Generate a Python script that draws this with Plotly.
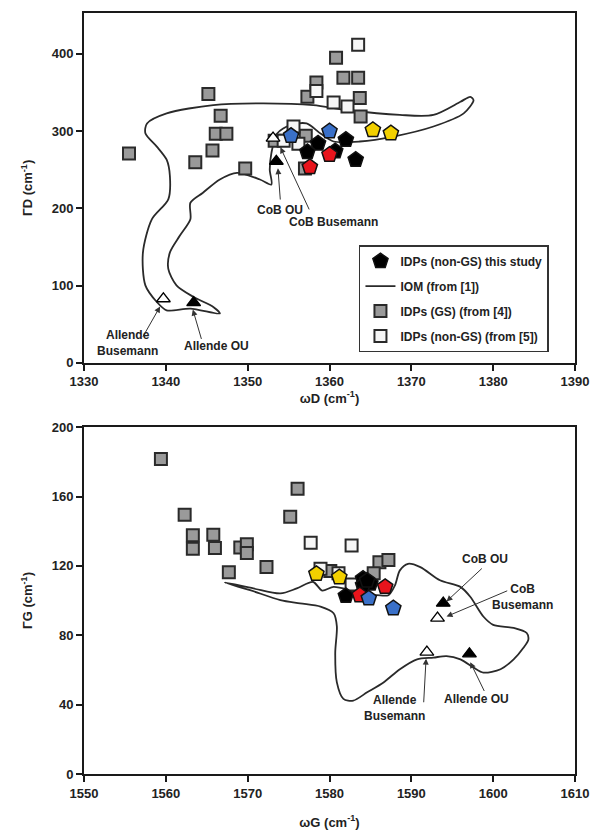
import plotly.graph_objects as go

# ---------------- Top panel (D band) ----------------
d_gs_x = [1335.5, 1345.2, 1346.7, 1346.1, 1347.4, 1345.7, 1343.6, 1349.7, 1353.3, 1357.1,
          1357.0, 1357.3, 1358.4, 1360.8, 1361.7, 1363.5, 1363.7, 1363.8]
d_gs_y = [271, 348, 320, 296.5, 296.5, 275, 259.6, 251.5, 287.5, 294,
          251.5, 344.5, 362.9, 395, 369, 369, 343, 319]
d_ngs_x = [1363.5, 1358.4, 1360.5, 1362.2, 1355.6, 1354.4, 1356.2]
d_ngs_y = [412, 352, 337, 332, 306, 287.5, 283.7]
d_black_x = [1358.6, 1362.0, 1357.3, 1360.7, 1363.2]
d_black_y = [284, 288.8, 273, 274, 263]
d_red_x = [1360.0, 1357.6]
d_red_y = [269.5, 253.6]
d_blue_x = [1355.3, 1360.0]
d_blue_y = [294, 300]
d_yellow_x = [1365.3, 1367.5]
d_yellow_y = [301.6, 297.3]
d_iom_x = [1346.6, 1345.8, 1343.4, 1341.3, 1340.3, 1340.5, 1341.7, 1343.0, 1343.0, 1344.5,
           1346.6, 1348.7, 1351.5, 1352.9, 1352.7, 1352.9, 1353.6, 1355.2, 1357.2, 1358.9,
           1360.5, 1363.7, 1367.8, 1372.7, 1376.4, 1377.6, 1377.2, 1376.0, 1372.7, 1368.6,
           1362.1, 1358.0, 1351.9, 1345.8, 1340.1, 1337.7, 1337.5, 1338.9, 1340.1, 1340.5,
           1340.3, 1338.3, 1337.2, 1337.5, 1338.9, 1340.1, 1343.0, 1346.6]
d_iom_y = [63.9, 72.4, 85.2, 100.3, 121.7, 143, 164.5, 186, 207.3, 220,
           237.4, 246, 237.4, 231, 250, 271.6, 297, 308, 310, 297,
           286.6, 286.6, 293, 306, 323, 340, 344.5, 338, 321, 321,
           327.4, 333.8, 336, 333.8, 323, 310, 297.3, 280, 263, 241.6,
           211.7, 186, 142.7, 100.3, 78.8, 68, 70.3, 63.9]
# reference samples: [CoB OU, CoB Busemann, Allende Busemann, Allende OU]
d_ref_x = [1353.5, 1353.1, 1339.7, 1343.4]
d_ref_y = [261, 291, 83, 78]
d_ref_filled = [True, False, False, True]
d_lbl_text = ["CoB OU", "CoB Busemann", "Allende<br>Busemann", "Allende OU"]
d_lbl_x = [1354.0, 1360.5, 1335.3, 1346.2]
d_lbl_y = [198, 182, 26, 22]
d_arrow_tail_x = [1354.0, 1357.6, 1337.1, 1344.4]
d_arrow_tail_y = [209.5, 196.7, 32, 29]
d_arrow_head_x = [1353.7, 1354.0, 1339.3, 1343.3]
d_arrow_head_y = [252, 279, 73, 69]

# ---------------- Bottom panel (G band) ----------------
g_gs_x = [1559.4, 1576.1, 1562.3, 1575.2, 1563.3, 1565.8, 1563.3, 1566.0, 1569.1, 1569.9,
          1569.9, 1567.7, 1572.3, 1586.1, 1587.2, 1585.4, 1580.1]
g_gs_y = [181.6, 164.5, 149.5, 148.4, 137.7, 138, 129.9, 130.3, 130.6, 132.5,
          127.4, 116.4, 119.3, 122.1, 123.4, 115.8, 117]
g_ngs_x = [1577.7, 1582.7, 1578.9, 1581.1, 1582.7]
g_ngs_y = [133.3, 131.8, 118.3, 115.8, 109.3]
g_black_x = [1582.0, 1584.1, 1585.0, 1584.1, 1584.6]
g_black_y = [102.7, 112.6, 109.8, 108.8, 111.5]
g_red_x = [1583.7, 1586.8]
g_red_y = [103.1, 107.9]
g_blue_x = [1584.8, 1587.8]
g_blue_y = [101.3, 95.6]
g_yellow_x = [1578.4, 1581.2]
g_yellow_y = [115.4, 113.5]
g_iom_x = [1567.2, 1570.7, 1574.0, 1576.0, 1578.0, 1579.1, 1580.5, 1582.5, 1584.4, 1585.8,
           1587.2, 1588.0, 1588.6, 1589.6, 1591.1, 1593.5, 1596.0, 1597.2, 1598.8, 1600.0,
           1602.5, 1604.1, 1604.3, 1603.7, 1602.5, 1600.9, 1598.8, 1597.6, 1596.0, 1594.3,
           1592.7, 1590.7, 1588.6, 1586.6, 1584.6, 1582.9, 1581.7, 1580.9, 1580.7, 1580.9,
           1580.5, 1578.9, 1576.4, 1574.0, 1570.3, 1567.2]
g_iom_y = [110.4, 107.0, 104.1, 107.0, 110.7, 105.8, 107.9, 106.0, 103.1, 103.1,
           103.1, 108.8, 117.4, 121.2, 119.3, 111.7, 107.9, 102.2, 90.8, 86.0,
           84.2, 81.3, 77.5, 72.8, 66.1, 60.4, 58.5, 61.4, 66.1, 68.0,
           67.1, 66.1, 60.4, 52.8, 47.1, 42.3, 43.3, 52.8, 69.9, 85.1,
           92.7, 96.5, 98.4, 100.3, 106.0, 110.4]
g_ref_x = [1593.9, 1593.2, 1591.9, 1597.1]
g_ref_y = [98.5, 89.9, 70.3, 69.3]
g_ref_filled = [True, False, False, True]
g_lbl_text = ["CoB OU", "CoB<br>Busemann", "Allende<br>Busemann", "Allende OU"]
g_lbl_x = [1599.0, 1603.6, 1588.0, 1598.0]
g_lbl_y = [124, 102, 38, 43]
g_arrow_tail_x = [1598.8, 1601.9, 1591.5, 1599.0]
g_arrow_tail_y = [119.3, 106, 40.5, 47]
g_arrow_head_x = [1594.3, 1594.3, 1591.8, 1597.2]
g_arrow_head_y = [99.5, 90.8, 66.5, 64.5]

x_ticks_top = [1330, 1340, 1350, 1360, 1370, 1380, 1390]
y_ticks_top = [0, 100, 200, 300, 400]
x_ticks_bot = [1550, 1560, 1570, 1580, 1590, 1600, 1610]
y_ticks_bot = [0, 40, 80, 120, 160, 200]

FONT = "Arial, Liberation Sans, sans-serif"
TXT = "#222222"
EDGE = "#2a2a2a"
GRAY = "#9a9a9a"
WHITE = "#f6f6f6"

fig = go.Figure()


def add_panel(xa, ya, gs_x, gs_y, ngs_x, ngs_y, bx, by, rx, ry, blx, bly, yx, yy,
              iom_x, iom_y, ref_x, ref_y, ref_filled, legend):
    fig.add_trace(go.Scatter(x=iom_x, y=iom_y, mode="lines", xaxis=xa, yaxis=ya,
                             line=dict(color=EDGE, width=1.8, shape="spline", smoothing=0.8),
                             name="IOM (from [1])", showlegend=legend, legendrank=2,
                             legendgroup="iom"))
    fig.add_trace(go.Scatter(x=gs_x, y=gs_y, mode="markers", xaxis=xa, yaxis=ya,
                             marker=dict(symbol="square", size=12, color=GRAY,
                                         line=dict(color=EDGE, width=2)),
                             name="IDPs (GS) (from [4])", showlegend=legend, legendrank=3,
                             legendgroup="gs"))
    fig.add_trace(go.Scatter(x=ngs_x, y=ngs_y, mode="markers", xaxis=xa, yaxis=ya,
                             marker=dict(symbol="square", size=12, color=WHITE,
                                         line=dict(color=EDGE, width=2)),
                             name="IDPs (non-GS) (from [5])", showlegend=legend, legendrank=4,
                             legendgroup="ngs"))
    for fx, fy, col, show in [(bx, by, "#000000", legend), (rx, ry, "#e8141c", False),
                              (blx, bly, "#3a70c8", False), (yx, yy, "#f2d000", False)]:
        fig.add_trace(go.Scatter(x=fx, y=fy, mode="markers", xaxis=xa, yaxis=ya,
                                 marker=dict(symbol="pentagon", size=16, color=col,
                                             line=dict(color="#111111", width=1.5)),
                                 name="IDPs (non-GS) this study", showlegend=show,
                                 legendrank=1, legendgroup="study"))
    fig.add_trace(go.Scatter(x=ref_x, y=ref_y, mode="markers", xaxis=xa, yaxis=ya,
                             marker=dict(symbol="triangle-up", size=12,
                                         color=["#000000" if f else "#ffffff" for f in ref_filled],
                                         line=dict(color="#000000", width=1.3)),
                             showlegend=False))


add_panel("x", "y", d_gs_x, d_gs_y, d_ngs_x, d_ngs_y, d_black_x, d_black_y, d_red_x, d_red_y,
          d_blue_x, d_blue_y, d_yellow_x, d_yellow_y, d_iom_x, d_iom_y,
          d_ref_x, d_ref_y, d_ref_filled, True)
add_panel("x2", "y2", g_gs_x, g_gs_y, g_ngs_x, g_ngs_y, g_black_x, g_black_y, g_red_x, g_red_y,
          g_blue_x, g_blue_y, g_yellow_x, g_yellow_y, g_iom_x, g_iom_y,
          g_ref_x, g_ref_y, g_ref_filled, False)

annotations = []
for xr, yr, txt, lx, ly, tx, ty, hx, hy in [
        ("x", "y", d_lbl_text, d_lbl_x, d_lbl_y, d_arrow_tail_x, d_arrow_tail_y, d_arrow_head_x, d_arrow_head_y),
        ("x2", "y2", g_lbl_text, g_lbl_x, g_lbl_y, g_arrow_tail_x, g_arrow_tail_y, g_arrow_head_x, g_arrow_head_y)]:
    for i in range(len(txt)):
        annotations.append(dict(x=hx[i], y=hy[i], ax=tx[i], ay=ty[i], xref=xr, yref=yr,
                                axref=xr, ayref=yr, text="", showarrow=True, arrowhead=2,
                                arrowsize=1.2, arrowwidth=1, arrowcolor="#333333", standoff=0))
        annotations.append(dict(x=lx[i], y=ly[i], xref=xr, yref=yr, text=txt[i],
                                showarrow=False, align="center",
                                font=dict(family=FONT, size=12, color=TXT, weight="bold")))

axis_common = dict(showgrid=False, zeroline=False, showline=True, linecolor="#1a1a1a",
                   linewidth=2, mirror=True, ticks="outside", ticklen=6, tickwidth=1.5,
                   tickcolor="#1a1a1a",
                   tickfont=dict(family=FONT, size=13, color=TXT, weight="bold"),
                   title_font=dict(family=FONT, size=13, color=TXT, weight="bold"))

fig.update_layout(
    width=598, height=834,
    margin=dict(l=84, r=23, t=6, b=58),
    paper_bgcolor="white", plot_bgcolor="white",
    font=dict(family=FONT, color=TXT),
    xaxis=dict(axis_common, domain=[0, 1], range=[1330, 1390], tickvals=x_ticks_top,
               anchor="y", title=dict(text="ωD (cm<sup>-1</sup>)", standoff=4)),
    yaxis=dict(axis_common, domain=[0.5403, 1], range=[0, 453], tickvals=y_ticks_top,
               anchor="x", title=dict(text="ΓD (cm<sup>-1</sup>)", standoff=16)),
    xaxis2=dict(axis_common, domain=[0, 1], range=[1550, 1610], tickvals=x_ticks_bot,
                anchor="y2", title=dict(text="ωG (cm<sup>-1</sup>)", standoff=18)),
    yaxis2=dict(axis_common, domain=[0, 0.4558], range=[0, 200], tickvals=y_ticks_bot,
                anchor="x2", title=dict(text="ΓG (cm<sup>-1</sup>)", standoff=16)),
    legend=dict(x=0.56, y=0.695, xanchor="left", yanchor="top",
                bgcolor="white", bordercolor="#333333", borderwidth=1.5,
                font=dict(family=FONT, size=12, color=TXT, weight="bold"),
                tracegroupgap=6, itemwidth=30),
    annotations=annotations,
)

fig.write_html("out.html", config={"displayModeBar": False},
               post_script="document.body.style.margin='0px';document.body.style.overflow='hidden';")
